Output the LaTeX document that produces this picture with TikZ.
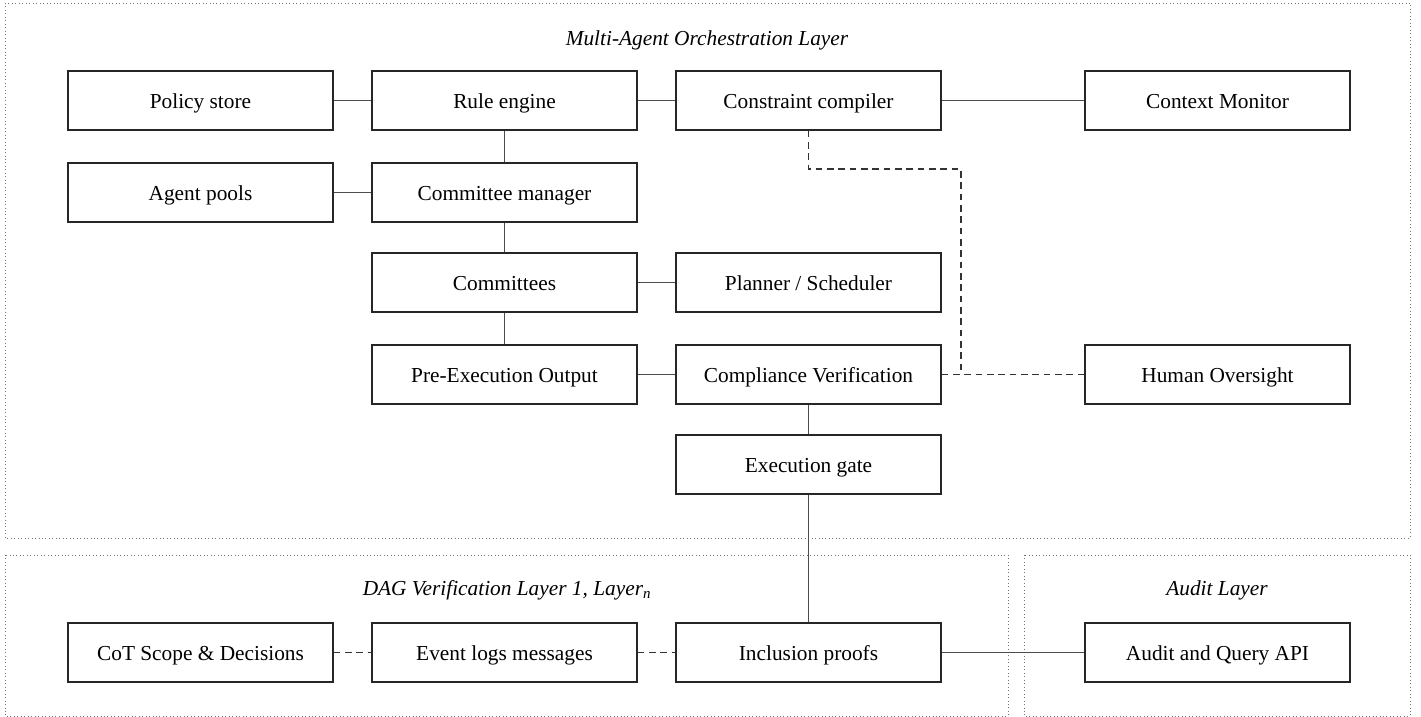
\documentclass[tikz,border=0pt]{standalone}
\usepackage{fontspec}
\setmainfont{Liberation Serif}
\begin{document}
\begin{tikzpicture}[x=0.75pt,y=-0.75pt,
  box/.style={draw=black!85,line width=1pt,minimum width=265*0.75pt,minimum height=59*0.75pt,inner sep=0pt,text height=13pt,text depth=0.5pt,font=\fontsize{16}{19}\selectfont},
  frame/.style={draw=black!55,dotted,line width=0.6pt},
  conn/.style={draw=black!70,line width=1.2pt},
  dconn/.style={draw=black!80,dashed,line width=0.9pt,dash pattern=on 5pt off 3.5pt},
  ttl/.style={font=\fontsize{16}{19}\selectfont\itshape}]
\useasboundingbox (0,0) rectangle (1421,717);
\draw[frame] (5,3) rectangle (1410,538);
\draw[frame] (5,555) rectangle (1008,716);
\draw[frame] (1024,555) rectangle (1410,716);
\node[ttl] (t1) at (707,40) {Multi-Agent Orchestration Layer};
\node[ttl] (t2) at (507,590) {DAG Verification Layer 1, Layer\textsubscript{n}};
\node[ttl] (t3) at (1217,590) {Audit Layer};
\node[box] (policy) at (200.5,100.5) {Policy store};
\node[box] (rule) at (504.5,100.5) {Rule engine};
\node[box] (constraint) at (808.5,100.5) {Constraint compiler};
\node[box] (context) at (1217.5,100.5) {Context Monitor};
\node[box] (agent) at (200.5,192.5) {Agent pools};
\node[box] (cman) at (504.5,192.5) {Committee manager};
\node[box] (comm) at (504.5,282.5) {Committees};
\node[box] (plan) at (808.5,282.5) {Planner / Scheduler};
\node[box] (pre) at (504.5,374.5) {Pre-Execution Output};
\node[box] (comp) at (808.5,374.5) {Compliance Verification};
\node[box] (human) at (1217.5,374.5) {Human Oversight};
\node[box] (gate) at (808.5,464.5) {Execution gate};
\node[box] (cot) at (200.5,652.5) {CoT Scope \& Decisions};
\node[box] (event) at (504.5,652.5) {Event logs messages};
\node[box] (incl) at (808.5,652.5) {Inclusion proofs};
\node[box] (audit) at (1217.5,652.5) {Audit and Query API};
\draw[conn] (policy) -- (rule);
\draw[conn] (rule) -- (constraint);
\draw[conn] (constraint) -- (context);
\draw[conn] (rule) -- (cman);
\draw[conn] (agent) -- (cman);
\draw[conn] (cman) -- (comm);
\draw[conn] (comm) -- (plan);
\draw[conn] (comm) -- (pre);
\draw[conn] (pre) -- (comp);
\draw[conn] (comp) -- (gate);
\draw[conn] (gate) -- (incl);
\draw[conn] (incl) -- (audit);
\draw[dconn] (cot) -- (event);
\draw[dconn] (event) -- (incl);
\coordinate (j) at (961,374.5);
\draw[dconn] (constraint.south) |- (961,169) -- (j);
\draw[dconn] (comp) -- (human);
\end{tikzpicture}
\end{document}
